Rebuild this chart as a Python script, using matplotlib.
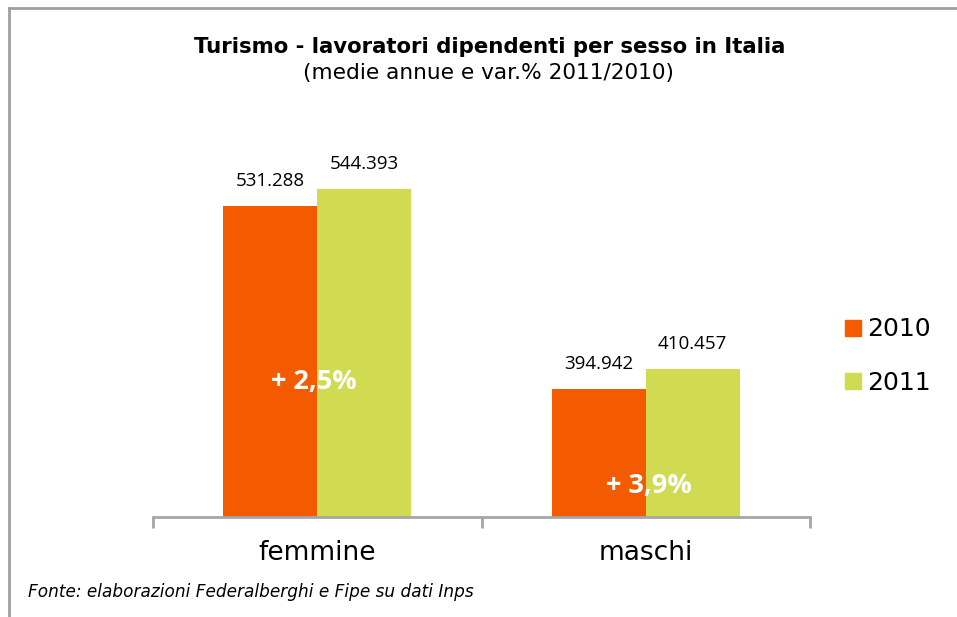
import numpy as np
import matplotlib
matplotlib.use("Agg")
import matplotlib.pyplot as plt
from matplotlib.lines import Line2D

# data
categories = ["femmine", "maschi"]
years = ["2010", "2011"]
v2010 = [531288, 394942]
v2011 = [544393, 410457]
var_labels = ["+ 2,5%", "+ 3,9%"]

c2010 = "#F45B00"
c2011 = "#D0DB52"
grey = "#A6A6A6"


def fmt(v):
    return f"{v:,}".replace(",", ".")


fig = plt.figure(figsize=(9.57, 6.17), dpi=100)
ax = fig.add_axes([153 / 957, 1 - 517 / 617, 657 / 957, 403 / 617])

x = np.arange(len(categories))
w = 0.286
b1 = ax.bar(x - w / 2, v2010, w, color=c2010, label=years[0])
b2 = ax.bar(x + w / 2, v2011, w, color=c2011, label=years[1])

ax.set_xlim(-0.5, 1.5)
ax.set_ylim(300000, 600000)

for bars in (b1, b2):
    for r in bars:
        v = r.get_height()
        ax.annotate(fmt(v), (r.get_x() + r.get_width() / 2, v),
                    xytext=(0, 18), textcoords="offset points",
                    ha="center", va="center", fontsize=13.5, family="Open Sans")

# variation labels (white, inside bars)
ax.text(x[0] - 0.01, 400500, var_labels[0], color="white", fontsize=19.5,
        fontweight="bold", family="Open Sans", ha="center", va="center")
ax.text(x[1] + 0.01, 323000, var_labels[1], color="white", fontsize=19.5,
        fontweight="bold", family="Open Sans", ha="center", va="center")

for s in ["top", "right", "left"]:
    ax.spines[s].set_visible(False)
ax.spines["bottom"].set_color(grey)
ax.spines["bottom"].set_linewidth(2)
ax.set_yticks([])
ax.set_xticks([-0.5, 0.5, 1.5])
ax.set_xticklabels([])
ax.tick_params(axis="x", length=8, width=2, color=grey, direction="out")
for xi, c in zip(x, categories):
    ax.text(xi, -0.09, c, transform=ax.get_xaxis_transform(), ha="center",
            va="center", fontsize=19)

# legend
handles = [Line2D([], [], marker="s", ls="", color=c, markersize=11) for c in (c2010, c2011)]
fig.legend(handles, years, loc="center left", bbox_to_anchor=(830 / 957, 1 - 356 / 617),
           frameon=False, fontsize=18, handletextpad=0.1, labelspacing=1.17,
           handlelength=1.0, borderaxespad=0)

fig.text(490 / 957, 1 - 47 / 617, "Turismo - lavoratori dipendenti per sesso in Italia",
         ha="center", va="center", fontsize=15.3, fontweight="bold")
fig.text(488 / 957, 1 - 73 / 617, "(medie annue e var.% 2011/2010)",
         ha="center", va="center", fontsize=15.6)
fig.text(28 / 957, 1 - 592 / 617, "Fonte: elaborazioni Federalberghi e Fipe su dati Inps",
         ha="left", va="center", fontsize=12.2, style="italic", family="DejaVu Sans")

# frame lines
fig.add_artist(Line2D([9 / 957, 9 / 957], [0, 1 - 8 / 617], color="#A0A0A0", lw=2))
fig.add_artist(Line2D([9 / 957, 1], [1 - 8 / 617, 1 - 8 / 617], color="#A0A0A0", lw=2))

fig.savefig("out.png", dpi=100)
